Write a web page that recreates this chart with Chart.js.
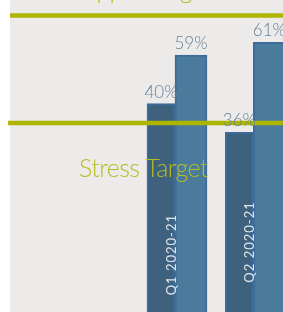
<!DOCTYPE html>
<html>
<head>
<meta charset="utf-8">
<script src="https://cdn.jsdelivr.net/npm/chart.js@4"></script>
<style>
html,body{margin:0;padding:0;background:#ffffff;}
canvas{display:block;}
</style>
</head>
<body>
<canvas id="c" width="283" height="312"></canvas>
<script>
const categories = ['Q1 2020-21', 'Q2 2020-21'];
const seriesDark = [40, 36];
const seriesLight = [59, 61];
const valueLabels = ['%', '%'];
const targetNames = ['Upper Target', 'Stress Target'];
const targetValues = [52.33, 37.3];

const BG = '#edebe9';
const GREEN = '#adb500';
const GREEN_TEXT = '#b5bd22';
const LABEL = '#62809b';

const decor = {
  id: 'decor',
  beforeDatasetsDraw(chart) {
    const ctx = chart.ctx;
    ctx.save();
    ctx.fillStyle = '#ffffff';
    ctx.fillRect(0, 0, chart.width, chart.height);
    ctx.fillStyle = BG;
    ctx.fillRect(10, 0, chart.width - 10, chart.height);
    ctx.restore();
  },
  afterDatasetsDraw(chart) {
    const ctx = chart.ctx;
    const yS = chart.scales.y;
    ctx.save();
    // target lines and names
    targetValues.forEach((v, i) => {
      const py = yS.getPixelForValue(v);
      ctx.strokeStyle = GREEN;
      ctx.lineWidth = 4.5;
      ctx.beginPath();
      ctx.moveTo(i === 0 ? 10 : 8, py);
      ctx.lineTo(chart.width, py);
      ctx.stroke();
      ctx.fillStyle = GREEN_TEXT;
      ctx.font = '300 25px Lato';
      ctx.letterSpacing = '-0.6px';
      ctx.textAlign = 'left';
      ctx.textBaseline = 'alphabetic';
      const by = i === 0 ? py - 18 : py + 54;
      ctx.fillText(targetNames[i], 79, by);
    });
    ctx.letterSpacing = '0px';
    // value labels
    ctx.font = '300 17px Lato';
    ctx.fillStyle = LABEL;
    ctx.textAlign = 'center';
    ctx.textBaseline = 'alphabetic';
    chart.data.datasets.forEach((ds, di) => {
      const meta = chart.getDatasetMeta(di);
      meta.data.forEach((bar, j) => {
        ctx.fillText(ds.data[j] + valueLabels[j], bar.x, bar.y - 6);
      });
    });
    // category labels inside bars
    const light = chart.getDatasetMeta(1).data;
    const xS = chart.scales.x;
    ctx.font = '400 13px Lato';
    ctx.letterSpacing = '1px';
    ctx.fillStyle = 'rgba(235,240,245,0.92)';
    categories.forEach((c, j) => {
      const cx = xS.getPixelForValue(j) - 3;
      const top = light[j].y + 159;
      ctx.save();
      ctx.translate(cx, top);
      ctx.rotate(-Math.PI / 2);
      ctx.textAlign = 'right';
      ctx.textBaseline = 'middle';
      ctx.fillText(c, 0, 0);
      ctx.restore();
    });
    ctx.restore();
  }
};

new Chart(document.getElementById('c'), {
  type: 'bar',
  data: {
    labels: categories,
    datasets: [
      {
        data: seriesDark,
        yAxisID: 'y',
        backgroundColor: '#3e627e',
        borderColor: '#3d6c9c',
        borderWidth: 2,
        barThickness: 28,
        clip: false
      },
      {
        data: seriesLight,
        yAxisID: 'y2',
        backgroundColor: '#4a7b9d',
        borderColor: '#3d6c9c',
        borderWidth: 2,
        barThickness: 32,
        clip: false
      }
    ]
  },
  options: {
    responsive: false,
    animation: false,
    devicePixelRatio: 1,
    layout: { padding: { left: 175, right: 29.7, top: 0, bottom: 0 } },
    plugins: { legend: { display: false }, tooltip: { enabled: false } },
    scales: {
      x: { type: 'category', offset: false, display: false },
      y: { type: 'linear', display: false, min: 10.86, max: 54.5 },
      y2: { type: 'linear', display: false, min: 18.53, max: 67.66 }
    }
  },
  plugins: [decor]
});
</script>
</body>
</html>
